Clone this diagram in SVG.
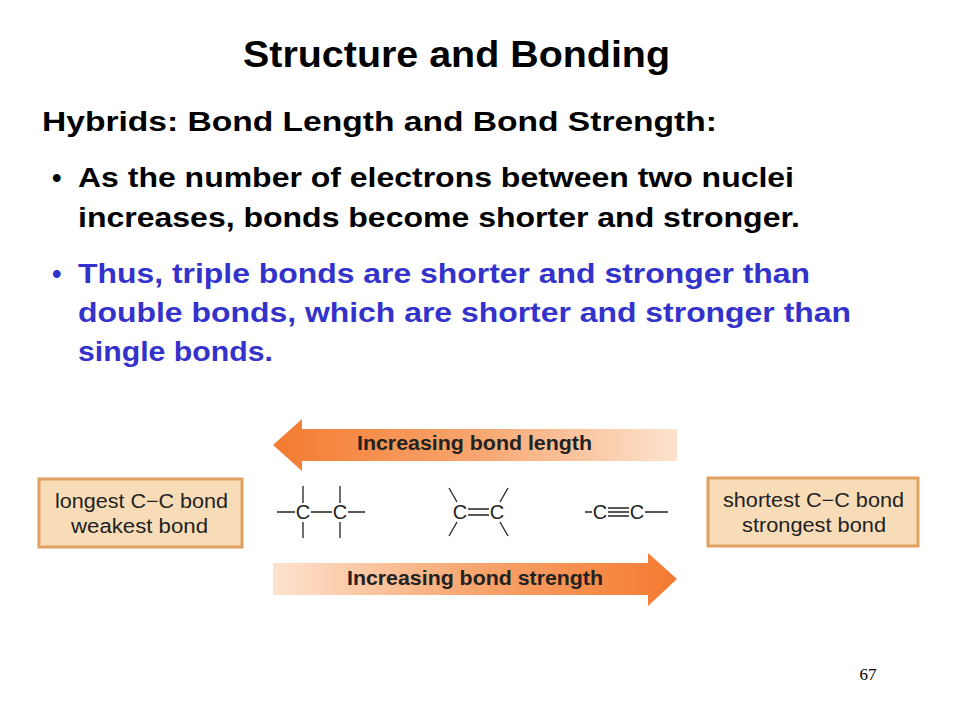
<svg xmlns="http://www.w3.org/2000/svg" width="960" height="720" viewBox="0 0 960 720">
<defs>
<style>
.b{font-family:"Liberation Sans",Arial,sans-serif;font-weight:bold}
.n{font-family:"Liberation Sans",Arial,sans-serif}
.ln{stroke:#222;stroke-width:1.3;fill:none}
.box{fill:#f8dcb8;stroke:#e0a060;stroke-width:3}
text{}
</style>
<linearGradient id="gl" x1="0" x2="1" y1="0" y2="0"><stop offset="0" stop-color="#f47a30"/><stop offset="0.5" stop-color="#f7a56e"/><stop offset="1" stop-color="#fde3cf"/></linearGradient>
<linearGradient id="gr" x1="0" x2="1" y1="0" y2="0"><stop offset="0" stop-color="#fde3cf"/><stop offset="0.5" stop-color="#f7a56e"/><stop offset="1" stop-color="#f47a30"/></linearGradient>
</defs>
<rect width="960" height="720" fill="#fff"/>
<text class="b" x="243" y="67" font-size="36" textLength="427" lengthAdjust="spacingAndGlyphs">Structure and Bonding</text>
<text class="b" x="42" y="131" font-size="27" textLength="675" lengthAdjust="spacingAndGlyphs">Hybrids:  Bond Length and Bond Strength:</text>
<g class="b" font-size="27">
<text x="52" y="187">•</text>
<text x="78" y="187" textLength="716" lengthAdjust="spacingAndGlyphs">As the number of electrons between two nuclei</text>
<text x="78" y="227" textLength="722" lengthAdjust="spacingAndGlyphs">increases, bonds become shorter and stronger.</text>
<g fill="#3333cc">
<text x="52" y="283">•</text>
<text x="78" y="283" textLength="732" lengthAdjust="spacingAndGlyphs">Thus, triple bonds are shorter and stronger than</text>
<text x="78" y="322" textLength="773" lengthAdjust="spacingAndGlyphs">double bonds, which are shorter and stronger than</text>
<text x="78" y="361" textLength="195" lengthAdjust="spacingAndGlyphs">single bonds.</text>
</g>
</g>
<g id="arrow-length">
<path d="M273,445 L302,419 L302,429 L677,429 L677,461 L302,461 L302,471 Z" fill="url(#gl)"/>
<text class="b" x="357" y="450" font-size="20" textLength="235" lengthAdjust="spacingAndGlyphs" fill="#222">Increasing bond length</text>
</g>
<g id="arrow-strength">
<path d="M273,563 L648,563 L648,553 L677,579 L648,606 L648,595 L273,595 Z" fill="url(#gr)"/>
<text class="b" x="347" y="585" font-size="20" textLength="256" lengthAdjust="spacingAndGlyphs" fill="#222">Increasing bond strength</text>
</g>
<g id="box-left">
<rect class="box" x="39" y="479" width="203" height="68"/>
<text class="n" x="55" y="508" font-size="20" textLength="173" lengthAdjust="spacingAndGlyphs" fill="#222">longest C−C bond</text>
<text class="n" x="71" y="533" font-size="20" textLength="137" lengthAdjust="spacingAndGlyphs" fill="#222">weakest bond</text>
</g>
<g id="box-right">
<rect class="box" x="708" y="478" width="210" height="68"/>
<text class="n" x="723" y="507" font-size="20" textLength="181" lengthAdjust="spacingAndGlyphs" fill="#222">shortest C−C bond</text>
<text class="n" x="742" y="532" font-size="20" textLength="144" lengthAdjust="spacingAndGlyphs" fill="#222">strongest bond</text>
</g>
<g id="single" class="n" font-size="20" fill="#222" text-anchor="middle">
<text x="303" y="519">C</text><text x="340" y="519">C</text>
<path class="ln" d="M277,512H295M311,512H332M348,512H365M303,486V503M303,522V538M340,486V503M340,522V538"/>
</g>
<g id="double" class="n" font-size="20" fill="#222" text-anchor="middle">
<text x="460" y="519">C</text><text x="497" y="519">C</text>
<path class="ln" d="M468,509H489M468,515H489M449,488L457,502M449,536L457,522M508,488L500,502M508,536L500,522"/>
</g>
<g id="triple" class="n" font-size="20" fill="#222" text-anchor="middle">
<text x="600" y="519">C</text><text x="637" y="519">C</text>
<path class="ln" d="M585,512H592M608,508H629M608,512H629M608,516H629M645,512H668"/>
</g>
<text x="868" y="680" font-family="Liberation Serif,serif" font-size="17" text-anchor="middle">67</text>
</svg>
